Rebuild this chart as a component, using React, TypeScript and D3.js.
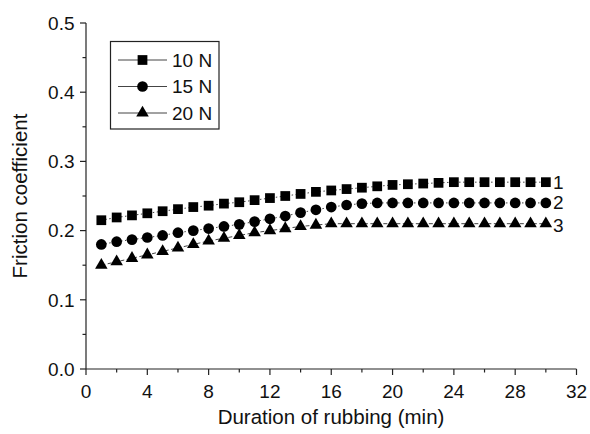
import React from "react";
import * as d3 from "d3";

const minutes = d3.range(1, 31);
const load10 = [0.215,0.219,0.222,0.225,0.228,0.231,0.234,0.236,0.239,0.241,0.244,0.247,0.250,0.253,0.256,0.258,0.260,0.262,0.264,0.266,0.267,0.268,0.269,0.270,0.270,0.270,0.270,0.270,0.270,0.270];
const load15 = [0.180,0.184,0.187,0.190,0.193,0.197,0.200,0.203,0.206,0.209,0.213,0.217,0.221,0.226,0.230,0.234,0.237,0.239,0.240,0.240,0.240,0.240,0.240,0.240,0.240,0.240,0.240,0.240,0.240,0.240];
const load20 = [0.150,0.155,0.160,0.165,0.170,0.175,0.180,0.185,0.189,0.193,0.197,0.200,0.203,0.206,0.208,0.210,0.210,0.210,0.210,0.210,0.210,0.210,0.210,0.210,0.210,0.210,0.210,0.210,0.210,0.210];
const seriesNames = ["10 N", "15 N", "20 N"];
const curveLabels = ["1", "2", "3"];
const xTicks = [0, 4, 8, 12, 16, 20, 24, 28, 32];
const yTicks = [0.0, 0.1, 0.2, 0.3, 0.4, 0.5];

const W = 590, H = 434;
const FONT = "'Liberation Sans', Arial, sans-serif";

export default function App() {
  const x = d3.scaleLinear().domain([0, 32]).range([86, 576.5]);
  const y = d3.scaleLinear().domain([0, 0.5]).range([369, 23]);
  const data = [load10, load15, load20];
  const symbols = [d3.symbolSquare, d3.symbolCircle, d3.symbolTriangle];
  const symSizes = [95, 90, 68];
  const dashes = ["1.5,2.5", "1.5,2.5", "4,2.5"];
  const line = d3.line<number>().x((_, i) => x(minutes[i])).y((v) => y(v));
  const xMinor = d3.range(0, 33, 2);
  const yMinor = d3.range(0, 0.501, 0.05);
  const ink = "#222";

  return (
    <svg width={W} height={H} style={{ position: "absolute", left: 0, top: 0, background: "#fff" }} fontFamily={FONT}>
      {/* axes */}
      <line x1={x(0)} x2={x(32)} y1={y(0)} y2={y(0)} stroke={ink} strokeWidth={1.2} />
      <line x1={x(0)} x2={x(0)} y1={y(0)} y2={y(0.5)} stroke={ink} strokeWidth={1.2} />
      {xMinor.map((t) => (
        <line key={"xm" + t} x1={x(t)} x2={x(t)} y1={y(0)} y2={y(0) + (t % 4 === 0 ? 6 : 3.5)} stroke={ink} strokeWidth={1.2} />
      ))}
      {yMinor.map((t, i) => (
        <line key={"ym" + i} x1={x(0)} x2={x(0) - (i % 2 === 0 ? 6 : 3.5)} y1={y(t)} y2={y(t)} stroke={ink} strokeWidth={1.2} />
      ))}
      {xTicks.map((t) => (
        <text key={"xt" + t} x={x(t)} y={397.5} textAnchor="middle" fontSize={19} fill="#111">{t}</text>
      ))}
      {yTicks.map((t) => (
        <text key={"yt" + t} x={74.5} y={y(t) + 6.8} textAnchor="end" fontSize={19} fill="#111">{t.toFixed(1)}</text>
      ))}
      <text x={331} y={424} textAnchor="middle" fontSize={20.5} fill="#111">Duration of rubbing (min)</text>
      <text transform={`translate(27,${(y(0) + y(0.5)) / 2}) rotate(-90)`} textAnchor="middle" fontSize={20.5} fill="#111">Friction coefficient</text>

      {/* series */}
      {data.map((vals, s) => (
        <g key={"s" + s}>
          <path d={line(vals) || ""} fill="none" stroke="#444" strokeWidth={1} strokeDasharray={dashes[s]} />
          {vals.map((v, i) => (
            <path key={i} transform={`translate(${x(minutes[i])},${y(v)})`} d={d3.symbol(symbols[s], symSizes[s])() || ""} fill="#000" />
          ))}
          <text x={553} y={y(vals[vals.length - 1]) + 6.5 + (s === 2 ? 2 : 0)} fontSize={19} fill="#111">{curveLabels[s]}</text>
        </g>
      ))}

      {/* legend */}
      <rect x={110.5} y={41.5} width={108.5} height={87.5} fill="#fff" stroke={ink} strokeWidth={1.2} />
      {seriesNames.map((n, s) => {
        const ly = 60 + s * 26.5;
        return (
          <g key={"lg" + s}>
            <line x1={118} x2={167} y1={ly} y2={ly} stroke="#444" strokeWidth={1} />
            <path transform={`translate(142.5,${ly})`} d={d3.symbol(symbols[s], symSizes[s])() || ""} fill="#000" />
            <text x={172} y={ly + 6.8} fontSize={19} fill="#111">{n}</text>
          </g>
        );
      })}
    </svg>
  );
}
